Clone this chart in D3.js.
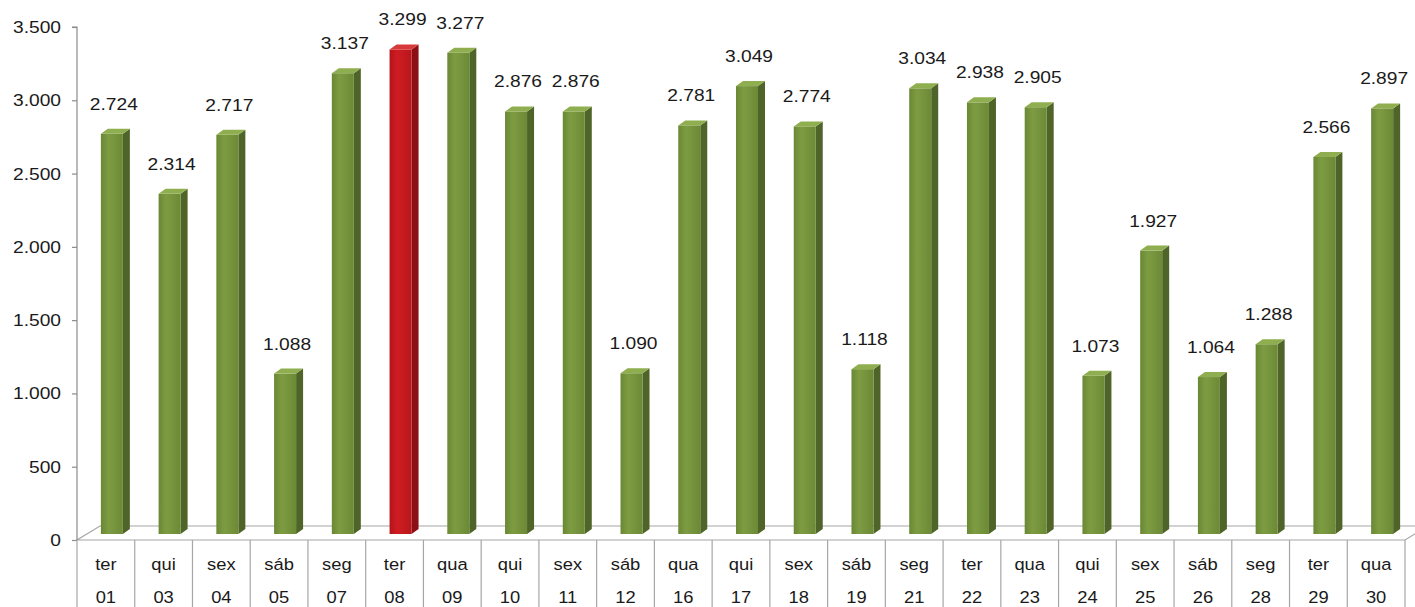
<!DOCTYPE html>
<html>
<head>
<meta charset="utf-8">
<script src="https://cdn.jsdelivr.net/npm/d3@7"></script>
<style>
  html, body { margin: 0; padding: 0; background: #ffffff; }
  svg { display: block; }
  text { font-family: "Liberation Sans", Arial, sans-serif; fill: #1a1a1a; }
</style>
</head>
<body>
<svg id="chart" width="1415" height="607"></svg>
<script>
// ---- data ----
const days = ["01","03","04","05","07","08","09","10","11","12","16","17","18","19","21","22","23","24","25","26","28","29","30"];
const weekdays = ["ter","qui","sex","sáb","seg","ter","qua","qui","sex","sáb","qua","qui","sex","sáb","seg","ter","qua","qui","sex","sáb","seg","ter","qua"];
const values = [2724,2314,2717,1088,3137,3299,3277,2876,2876,1090,2781,3049,2774,1118,3034,2938,2905,1073,1927,1064,1288,2566,2897];
const highlightDay = "08";
const yTicks = [0,500,1000,1500,2000,2500,3000,3500];

// ---- setup ----
(function () {
const svg = d3.select("#chart");
const W = 1415, H = 607;
const mLeft = 77, mRight = 1405, mTop = 27, mBottom = 540;
const depthX = 23, depthY = -14;      // floor depth
const barDX = 7, barDY = -5;          // bar depth
const barW = 22;

const locale = d3.formatLocale({decimal: ",", thousands: ".", grouping: [3], currency: ["R$", ""]});
const fmt = locale.format(",d");

const x = d3.scaleBand().domain(days).range([mLeft, mRight]).padding(0);
const y = d3.scaleLinear().domain([0, 3500]).range([mBottom, mTop]);

const defs = svg.append("defs");
function grad(id, stops) {
  const g = defs.append("linearGradient").attr("id", id).attr("x1", "0").attr("x2", "1").attr("y1", "0").attr("y2", "0");
  stops.forEach(s => g.append("stop").attr("offset", s[0]).attr("stop-color", s[1]));
}
grad("gFront", [[0, "#6a8834"], [0.35, "#7d9c42"], [1, "#6c8a36"]]);
grad("rFront", [[0, "#b3141a"], [0.35, "#cf1d22"], [1, "#b8161b"]]);

// ---- floor ----
svg.append("path")
  .attr("d", `M${mLeft},${mBottom} L${mRight},${mBottom} L${mRight + depthX},${mBottom + depthY} L${mLeft + depthX},${mBottom + depthY} Z`)
  .attr("fill", "#ffffff").attr("stroke", "#a6a6a6").attr("stroke-width", 1.2);

// ---- y axis ----
const yAxis = d3.axisLeft(y).tickValues(yTicks).tickSize(5).tickFormat(fmt);
const gy = svg.append("g").attr("transform", `translate(${mLeft},0)`).call(yAxis);
gy.select(".domain").attr("stroke", "#8c8c8c").attr("stroke-width", 1.2).attr("d", `M-5,${mTop}H0V${mBottom}`);
gy.selectAll(".tick line").attr("stroke", "#8c8c8c").attr("stroke-width", 1.2);
gy.selectAll(".tick text")
  .attr("x", null).attr("dy", null)
  .attr("text-anchor", "end")
  .attr("dominant-baseline", "central")
  .attr("transform", "translate(-16,0) scale(1.2,1)")
  .style("font-size", "16px")
  .style("font-family", "'Liberation Sans', Arial, sans-serif")
  .style("fill", "#1a1a1a");

// ---- category table ----
const boundaries = days.map(d => x(d)).concat([mRight]);
svg.append("g").selectAll("line").data(boundaries).join("line")
  .attr("x1", d => d).attr("x2", d => d)
  .attr("y1", mBottom).attr("y2", H)
  .attr("stroke", "#a6a6a6").attr("stroke-width", 1.2);

const cat = svg.append("g").selectAll("g").data(days).join("g")
  .attr("transform", d => `translate(${x(d) + x.bandwidth() / 2},0)`);
cat.append("text")
  .attr("text-anchor", "middle")
  .attr("transform", "translate(0,570) scale(1.08,1)")
  .style("font-size", "17px")
  .text((d, i) => weekdays[i]);
cat.append("text")
  .attr("text-anchor", "middle")
  .attr("transform", "translate(0,603) scale(1.08,1)")
  .style("font-size", "17px")
  .text(d => d);

// ---- bars ----
const base = y(0) - 6;
const bars = svg.append("g").selectAll("g").data(days).join("g");
bars.each(function(d, i) {
  const g = d3.select(this);
  const v = values[i];
  const red = d === highlightDay;
  const x0 = x(d) + x.bandwidth() / 2 - 5;
  const t = y(v) - 7;
  const side = red ? "#8c0f13" : "#4f6428";
  const topc = red ? "#d83a3a" : "#8fae4f";
  g.append("path")
    .attr("d", `M${x0 + barW},${t} L${x0 + barW + barDX},${t + barDY} L${x0 + barW + barDX},${base + barDY} L${x0 + barW},${base} Z`)
    .attr("fill", side);
  g.append("rect")
    .attr("x", x0).attr("y", t).attr("width", barW).attr("height", base - t)
    .attr("fill", red ? "url(#rFront)" : "url(#gFront)");
  g.append("path")
    .attr("d", `M${x0},${t} L${x0 + barDX},${t + barDY} L${x0 + barW + barDX},${t + barDY} L${x0 + barW},${t} Z`)
    .attr("fill", topc);
  g.append("text")
    .attr("text-anchor", "middle")
    .attr("transform", `translate(${x(d) + x.bandwidth() / 2 + 8},${t - 24}) scale(1.2,1)`)
    .style("font-size", "16px")
    .text(fmt(v));
});
})();
</script>
</body>
</html>
